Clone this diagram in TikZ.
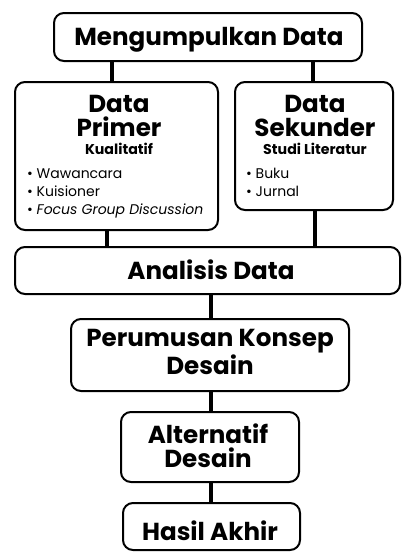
\documentclass[tikz,border=0pt]{standalone}
\usepackage{fontspec}
\setmainfont{Poppins}
\begin{document}
\begin{tikzpicture}[x=1pt,y=-1pt,
  box/.style={draw, line width=2pt, rounded corners=10pt, fill=white, inner sep=0pt},
  link/.style={line width=4pt},
  head/.style={font=\fontsize{24.6}{24}\selectfont\bfseries, inner sep=0pt, anchor=base},
  head2/.style={head, align=center},
  sub/.style={font=\fontsize{14.2}{16}\selectfont\bfseries, inner sep=0pt, anchor=base},
  item/.style={font=\fontsize{14}{16}\selectfont, inner sep=0pt, anchor=base west}]
\useasboundingbox (0,0) rectangle (402,552);
% connectors
\coordinate (c1) at (112,0);
\coordinate (c2) at (313,0);
\coordinate (c3) at (107,0);
\coordinate (c4) at (315,0);
\coordinate (c5) at (211,0);
\path (208,37) coordinate (pM) (116.5,156) coordinate (pP) (314,146) coordinate (pS)
  (207.5,270.5) coordinate (pA) (210,355) coordinate (pK) (210,447) coordinate (pL) (211.5,526.5) coordinate (pH);
\node[box, minimum width=308pt, minimum height=48pt] (M) at (pM) {};
\node[box, minimum width=203pt, minimum height=148pt] (P) at (pP) {};
\node[box, minimum width=158pt, minimum height=128pt] (S) at (pS) {};
\node[box, minimum width=385pt, minimum height=47pt] (A) at (pA) {};
\node[box, minimum width=278pt, minimum height=72pt] (K) at (pK) {};
\node[box, minimum width=178pt, minimum height=70pt] (L) at (pL) {};
\node[box, minimum width=177pt, minimum height=47pt] (H) at (pH) {};
\draw[link] (M.south -| c1) -- (P.north -| c1);
\draw[link] (M.south -| c2) -- (S.north -| c2);
\draw[link] (P.south -| c3) -- (A.north -| c3);
\draw[link] (S.south -| c4) -- (A.north -| c4);
\draw[link] (A.south -| c5) -- (K.north -| c5);
\draw[link] (K.south -| c5) -- (L.north -| c5);
\draw[link] (L.south -| c5) -- (H.north -| c5);
% texts
\node[head] (tM) at (209,45) {Mengumpulkan Data};
\node[head2] (tP) at (119,136) {Data\\Primer};
\node[sub] (tP3) at (119,154) {Kualitatif};
\node[item] (iP1) at (27,178) {• Wawancara};
\node[item] (iP2) at (27,196) {• Kuisioner};
\node[item] (iP3) at (27,214) {• \textit{Focus Group Discussion}};
\node[head2] (tS) at (315,136) {Data\\Sekunder};
\node[sub] (tS3) at (315,154) {Studi Literatur};
\node[item] (iS1) at (246,178) {• Buku};
\node[item] (iS2) at (246,196) {• Jurnal};
\node[head] (tA) at (211,279) {Analisis Data};
\node[head2, font=\fontsize{24.6}{25}\selectfont\bfseries] (tK) at (210,374) {Perumusan Konsep\\Desain};
\node[head2] (tL) at (208,467) {Alternatif\\Desain};
\node[head] (tH) at (210,540) {Hasil Akhir};
\end{tikzpicture}
\end{document}
